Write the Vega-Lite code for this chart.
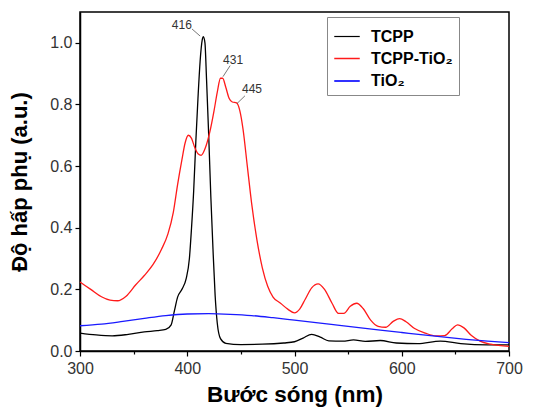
{
  "$schema": "https://vega.github.io/schema/vega-lite/v6.json",
  "width": 429,
  "height": 339,
  "autosize": "none",
  "padding": {"left": 80, "top": 12, "right": 37, "bottom": 56},
  "background": "white",
  "config": {
    "font": "Liberation Sans",
    "view": {"stroke": "black", "strokeWidth": 1.5}
  },
  "datasets": {
    "spectra": [
      {"s": "TCPP", "x": 300, "y": 0.058},
      {"s": "TCPP", "x": 315, "y": 0.052},
      {"s": "TCPP", "x": 330, "y": 0.049},
      {"s": "TCPP", "x": 345, "y": 0.054},
      {"s": "TCPP", "x": 360, "y": 0.062},
      {"s": "TCPP", "x": 372, "y": 0.066},
      {"s": "TCPP", "x": 380, "y": 0.07},
      {"s": "TCPP", "x": 385, "y": 0.085},
      {"s": "TCPP", "x": 388, "y": 0.13},
      {"s": "TCPP", "x": 391, "y": 0.175},
      {"s": "TCPP", "x": 395, "y": 0.2},
      {"s": "TCPP", "x": 399, "y": 0.235},
      {"s": "TCPP", "x": 402, "y": 0.3},
      {"s": "TCPP", "x": 404, "y": 0.4},
      {"s": "TCPP", "x": 406, "y": 0.52},
      {"s": "TCPP", "x": 408, "y": 0.68},
      {"s": "TCPP", "x": 410, "y": 0.82},
      {"s": "TCPP", "x": 412, "y": 0.94},
      {"s": "TCPP", "x": 414, "y": 1.01},
      {"s": "TCPP", "x": 415, "y": 1.02},
      {"s": "TCPP", "x": 416.5, "y": 1.0},
      {"s": "TCPP", "x": 418, "y": 0.88},
      {"s": "TCPP", "x": 420, "y": 0.7},
      {"s": "TCPP", "x": 422, "y": 0.5},
      {"s": "TCPP", "x": 424, "y": 0.33},
      {"s": "TCPP", "x": 426, "y": 0.18},
      {"s": "TCPP", "x": 428, "y": 0.09},
      {"s": "TCPP", "x": 431, "y": 0.04},
      {"s": "TCPP", "x": 436, "y": 0.025},
      {"s": "TCPP", "x": 450, "y": 0.021},
      {"s": "TCPP", "x": 470, "y": 0.022},
      {"s": "TCPP", "x": 490, "y": 0.026},
      {"s": "TCPP", "x": 500, "y": 0.03},
      {"s": "TCPP", "x": 508, "y": 0.042},
      {"s": "TCPP", "x": 516, "y": 0.054},
      {"s": "TCPP", "x": 524, "y": 0.045},
      {"s": "TCPP", "x": 532, "y": 0.033},
      {"s": "TCPP", "x": 545, "y": 0.032},
      {"s": "TCPP", "x": 555, "y": 0.036},
      {"s": "TCPP", "x": 566, "y": 0.031},
      {"s": "TCPP", "x": 580, "y": 0.034},
      {"s": "TCPP", "x": 595, "y": 0.026},
      {"s": "TCPP", "x": 615, "y": 0.024},
      {"s": "TCPP", "x": 636, "y": 0.032},
      {"s": "TCPP", "x": 655, "y": 0.024},
      {"s": "TCPP", "x": 680, "y": 0.02},
      {"s": "TCPP", "x": 700, "y": 0.02},

      {"s": "TCPP-TiO₂", "x": 300, "y": 0.224},
      {"s": "TCPP-TiO₂", "x": 310, "y": 0.2},
      {"s": "TCPP-TiO₂", "x": 320, "y": 0.176},
      {"s": "TCPP-TiO₂", "x": 328, "y": 0.165},
      {"s": "TCPP-TiO₂", "x": 335, "y": 0.163},
      {"s": "TCPP-TiO₂", "x": 343, "y": 0.178},
      {"s": "TCPP-TiO₂", "x": 352, "y": 0.215},
      {"s": "TCPP-TiO₂", "x": 360, "y": 0.245},
      {"s": "TCPP-TiO₂", "x": 368, "y": 0.28},
      {"s": "TCPP-TiO₂", "x": 376, "y": 0.33},
      {"s": "TCPP-TiO₂", "x": 382, "y": 0.38},
      {"s": "TCPP-TiO₂", "x": 387, "y": 0.45},
      {"s": "TCPP-TiO₂", "x": 391, "y": 0.54},
      {"s": "TCPP-TiO₂", "x": 395, "y": 0.62},
      {"s": "TCPP-TiO₂", "x": 398, "y": 0.675},
      {"s": "TCPP-TiO₂", "x": 401, "y": 0.7},
      {"s": "TCPP-TiO₂", "x": 404, "y": 0.69},
      {"s": "TCPP-TiO₂", "x": 407, "y": 0.66},
      {"s": "TCPP-TiO₂", "x": 410, "y": 0.64},
      {"s": "TCPP-TiO₂", "x": 413, "y": 0.635},
      {"s": "TCPP-TiO₂", "x": 417, "y": 0.66},
      {"s": "TCPP-TiO₂", "x": 421, "y": 0.71},
      {"s": "TCPP-TiO₂", "x": 425, "y": 0.78},
      {"s": "TCPP-TiO₂", "x": 428, "y": 0.84},
      {"s": "TCPP-TiO₂", "x": 431, "y": 0.885},
      {"s": "TCPP-TiO₂", "x": 433, "y": 0.885},
      {"s": "TCPP-TiO₂", "x": 436, "y": 0.855},
      {"s": "TCPP-TiO₂", "x": 439, "y": 0.82},
      {"s": "TCPP-TiO₂", "x": 442, "y": 0.808},
      {"s": "TCPP-TiO₂", "x": 446, "y": 0.805},
      {"s": "TCPP-TiO₂", "x": 449, "y": 0.78},
      {"s": "TCPP-TiO₂", "x": 452, "y": 0.72},
      {"s": "TCPP-TiO₂", "x": 456, "y": 0.6},
      {"s": "TCPP-TiO₂", "x": 460, "y": 0.48},
      {"s": "TCPP-TiO₂", "x": 465, "y": 0.36},
      {"s": "TCPP-TiO₂", "x": 470, "y": 0.27},
      {"s": "TCPP-TiO₂", "x": 475, "y": 0.21},
      {"s": "TCPP-TiO₂", "x": 480, "y": 0.175},
      {"s": "TCPP-TiO₂", "x": 487, "y": 0.155},
      {"s": "TCPP-TiO₂", "x": 494, "y": 0.135},
      {"s": "TCPP-TiO₂", "x": 500, "y": 0.124},
      {"s": "TCPP-TiO₂", "x": 505, "y": 0.137},
      {"s": "TCPP-TiO₂", "x": 510, "y": 0.168},
      {"s": "TCPP-TiO₂", "x": 516, "y": 0.205},
      {"s": "TCPP-TiO₂", "x": 522, "y": 0.218},
      {"s": "TCPP-TiO₂", "x": 528, "y": 0.2},
      {"s": "TCPP-TiO₂", "x": 535, "y": 0.155},
      {"s": "TCPP-TiO₂", "x": 541, "y": 0.122},
      {"s": "TCPP-TiO₂", "x": 546, "y": 0.122},
      {"s": "TCPP-TiO₂", "x": 552, "y": 0.145},
      {"s": "TCPP-TiO₂", "x": 558, "y": 0.155},
      {"s": "TCPP-TiO₂", "x": 564, "y": 0.138},
      {"s": "TCPP-TiO₂", "x": 571, "y": 0.1},
      {"s": "TCPP-TiO₂", "x": 578, "y": 0.08},
      {"s": "TCPP-TiO₂", "x": 585, "y": 0.077},
      {"s": "TCPP-TiO₂", "x": 592, "y": 0.096},
      {"s": "TCPP-TiO₂", "x": 598, "y": 0.105},
      {"s": "TCPP-TiO₂", "x": 604, "y": 0.095},
      {"s": "TCPP-TiO₂", "x": 612, "y": 0.073},
      {"s": "TCPP-TiO₂", "x": 622, "y": 0.058},
      {"s": "TCPP-TiO₂", "x": 632, "y": 0.049},
      {"s": "TCPP-TiO₂", "x": 640, "y": 0.05},
      {"s": "TCPP-TiO₂", "x": 647, "y": 0.072},
      {"s": "TCPP-TiO₂", "x": 652, "y": 0.085},
      {"s": "TCPP-TiO₂", "x": 658, "y": 0.075},
      {"s": "TCPP-TiO₂", "x": 665, "y": 0.05},
      {"s": "TCPP-TiO₂", "x": 673, "y": 0.032},
      {"s": "TCPP-TiO₂", "x": 683, "y": 0.022},
      {"s": "TCPP-TiO₂", "x": 700, "y": 0.015},

      {"s": "TiO₂", "x": 300, "y": 0.082},
      {"s": "TiO₂", "x": 320, "y": 0.087},
      {"s": "TiO₂", "x": 340, "y": 0.096},
      {"s": "TiO₂", "x": 360, "y": 0.106},
      {"s": "TiO₂", "x": 380, "y": 0.115},
      {"s": "TiO₂", "x": 400, "y": 0.12},
      {"s": "TiO₂", "x": 420, "y": 0.121},
      {"s": "TiO₂", "x": 440, "y": 0.119},
      {"s": "TiO₂", "x": 460, "y": 0.115},
      {"s": "TiO₂", "x": 480, "y": 0.108},
      {"s": "TiO₂", "x": 500, "y": 0.1},
      {"s": "TiO₂", "x": 520, "y": 0.092},
      {"s": "TiO₂", "x": 540, "y": 0.084},
      {"s": "TiO₂", "x": 560, "y": 0.076},
      {"s": "TiO₂", "x": 580, "y": 0.068},
      {"s": "TiO₂", "x": 600, "y": 0.06},
      {"s": "TiO₂", "x": 620, "y": 0.052},
      {"s": "TiO₂", "x": 640, "y": 0.045},
      {"s": "TiO₂", "x": 660, "y": 0.038},
      {"s": "TiO₂", "x": 680, "y": 0.032},
      {"s": "TiO₂", "x": 700, "y": 0.027}
    ],
    "notes": [
      {"label": "416", "tx": 395, "ty": 1.058, "x1": 404.4, "y1": 1.045, "x2": 412, "y2": 1.022},
      {"label": "431", "tx": 442.7, "ty": 0.945, "x1": 440, "y1": 0.926, "x2": 433.3, "y2": 0.89},
      {"label": "445", "tx": 460.4, "ty": 0.851, "x1": 453.8, "y1": 0.828, "x2": 446.4, "y2": 0.803}
    ]
  },
  "layer": [
    {
      "data": {"name": "spectra"},
      "mark": {"type": "line", "strokeWidth": 1.3, "interpolate": "monotone"},
      "encoding": {
        "x": {
          "field": "x", "type": "quantitative",
          "scale": {"domain": [300, 700], "nice": false, "zero": false},
          "axis": {
            "title": "Bước sóng (nm)",
            "values": [300, 350, 400, 450, 500, 550, 600, 650, 700],
            "labelExpr": "datum.value % 100 === 0 ? datum.label : ''",
            "tickSize": {"condition": {"test": "datum.value % 100 === 0", "value": 5}, "value": 3},
            "grid": false,
            "domainColor": "black", "domainWidth": 1.5,
            "tickColor": "black", "tickWidth": 1.2,
            "labelFont": "Liberation Sans", "labelFontSize": 16, "labelColor": "#333",
            "labelPadding": 4, "labelFlush": false,
            "titleFont": "Liberation Sans", "titleFontSize": 22.5, "titleFontWeight": "bold", "titleColor": "black",
            "titlePadding": 7
          }
        },
        "y": {
          "field": "y", "type": "quantitative",
          "scale": {"domain": [0, 1.1], "nice": false},
          "axis": {
            "title": "Độ hấp phụ (a.u.)",
            "values": [0, 0.1, 0.2, 0.3, 0.4, 0.5, 0.6, 0.7, 0.8, 0.9, 1.0],
            "format": ".1f",
            "labelExpr": "round(datum.value * 10) % 2 === 0 ? datum.label : ''",
            "tickSize": {"condition": {"test": "round(datum.value * 10) % 2 === 0", "value": 5}, "value": 3},
            "grid": false,
            "domainColor": "black", "domainWidth": 1.5,
            "tickColor": "black", "tickWidth": 1.2,
            "labelFont": "Liberation Sans", "labelFontSize": 16, "labelColor": "#333",
            "labelPadding": 3,
            "titleFont": "Liberation Sans", "titleFontSize": 22, "titleFontWeight": "bold", "titleColor": "black",
            "titlePadding": 18
          }
        },
        "color": {
          "field": "s", "type": "nominal",
          "scale": {"domain": ["TCPP", "TCPP-TiO₂", "TiO₂"], "range": ["#000000", "#ff1a1a", "#1a1aff"]},
          "legend": {
            "title": null,
            "orient": "none",
            "legendX": 247,
            "legendY": 5,
            "symbolType": "stroke",
            "symbolSize": 650,
            "symbolStrokeWidth": 1.3,
            "labelFont": "Liberation Sans",
            "labelFontSize": 16,
            "labelFontWeight": "bold",
            "labelColor": "black",
            "labelOffset": 10,
            "rowPadding": 0,
            "padding": 6,
            "offset": 0,
            "strokeColor": "#888",
            "fillColor": "white"
          }
        },
        "strokeWidth": {
          "field": "s", "type": "nominal",
          "scale": {"domain": ["TCPP", "TCPP-TiO₂", "TiO₂"], "range": [1.2, 1.8, 1.2]},
          "legend": null
        }
      }
    },
    {
      "data": {"name": "notes"},
      "mark": {"type": "rule", "color": "#555", "strokeWidth": 0.8},
      "encoding": {
        "x": {"field": "x1", "type": "quantitative"},
        "y": {"field": "y1", "type": "quantitative"},
        "x2": {"field": "x2"},
        "y2": {"field": "y2"}
      }
    },
    {
      "data": {"name": "notes"},
      "mark": {"type": "text", "font": "Liberation Sans", "fontSize": 12, "color": "#333", "align": "center", "baseline": "middle"},
      "encoding": {
        "x": {"field": "tx", "type": "quantitative"},
        "y": {"field": "ty", "type": "quantitative"},
        "text": {"field": "label"}
      }
    }
  ]
}
